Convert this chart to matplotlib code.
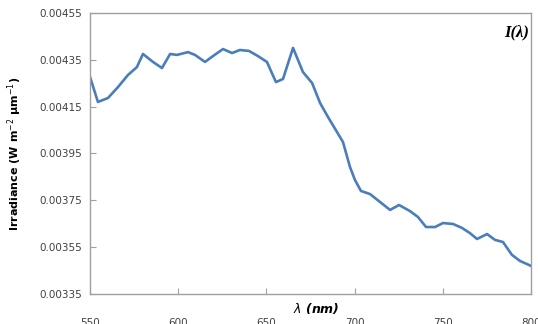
import matplotlib
matplotlib.use("Agg")
import matplotlib.pyplot as plt

# wavelength (nm) and irradiance
wavelength = [550, 554.5, 560.2, 565.9, 571.5, 576.6, 580.0, 585.7, 590.8, 595.4,
              599.3, 605.6, 609.5, 615.2, 619.7, 625.4, 630.5, 635.0, 640.1, 645.2,
              650.3, 655.4, 659.4, 665.1, 670.7, 675.9, 680.4, 684.9, 690.0, 693.4,
              697.4, 700.2, 703.6, 708.7, 714.4, 720.1, 725.2, 731.4, 735.9, 740.5,
              745.6, 750.1, 755.8, 760.9, 765.4, 769.4, 775.1, 779.6, 784.1, 789.2,
              793.8, 800.0]
irradiance = [0.004277, 0.004170, 0.004187, 0.004234, 0.004285, 0.004319, 0.004375,
              0.004341, 0.004315, 0.004375, 0.004371, 0.004383, 0.004371, 0.004341,
              0.004366, 0.004396, 0.004379, 0.004392, 0.004388, 0.004366, 0.004341,
              0.004255, 0.004268, 0.004401, 0.004298, 0.004251, 0.004166, 0.004106,
              0.004042, 0.003999, 0.003892, 0.003837, 0.003790, 0.003777, 0.003743,
              0.003709, 0.003730, 0.003704, 0.003679, 0.003636, 0.003636, 0.003653,
              0.003649, 0.003632, 0.003610, 0.003585, 0.003606, 0.003581, 0.003572,
              0.003517, 0.003491, 0.003470]

x_ticks = [550, 600, 650, 700, 750, 800]
y_ticks = [0.00335, 0.00355, 0.00375, 0.00395, 0.00415, 0.00435, 0.00455]

fig = plt.figure(figsize=(5.38, 3.24), dpi=100)
ax = fig.add_axes([0.1673, 0.0926, 0.8197, 0.8673])

ax.plot(wavelength, irradiance, color="#4a7ebb", linewidth=1.9)

ax.set_xlim(550, 800)
ax.set_ylim(0.00335, 0.00455)
ax.set_xticks(x_ticks)
ax.set_yticks(y_ticks)
ax.set_yticklabels(["%.5f" % v for v in y_ticks])

gris = "#a0a0a0"
for s in ax.spines.values():
    s.set_color(gris)
    s.set_linewidth(1.0)
ax.tick_params(axis="both", direction="in", length=4, width=0.8, color=gris,
               labelsize=7.5, labelcolor="#404040")
ax.tick_params(axis="x", pad=17)
ax.tick_params(axis="y", pad=6)

ax.set_xlabel(r"$\lambda$ (nm)", fontsize=9, fontweight="bold", style="italic")
ax.xaxis.set_label_coords(0.512, -0.025)
ax.set_ylabel(r"Irradiance (W m$^{-2}$ µm$^{-1}$)", fontsize=8, fontweight="bold")
ax.yaxis.set_label_coords(-0.15, 0.5)

ax.text(0.995, 0.93, "I(λ)", transform=ax.transAxes, ha="right", va="center",
        fontsize=12, fontweight="bold", style="italic", family="Liberation Serif")

fig.savefig("out.png", dpi=100)
